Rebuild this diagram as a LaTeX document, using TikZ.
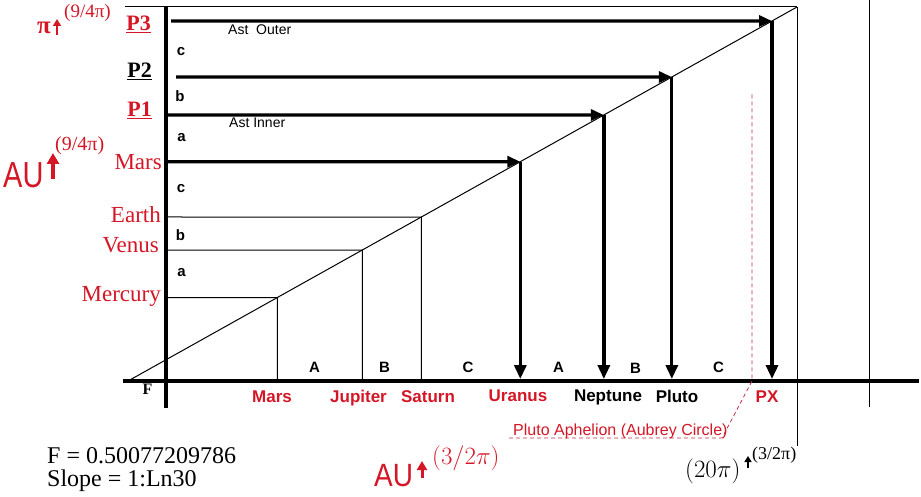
\documentclass[tikz,border=0pt]{standalone}
\usepackage[no-math]{fontspec}
\setmainfont{Liberation Serif}
\newfontfamily\arialf{Liberation Sans}
\usetikzlibrary{arrows.meta}
\definecolor{myred}{RGB}{212,22,38}
\definecolor{dashred}{RGB}{190,50,70}
\newcommand\setfs[1]{\fontsize{#1}{#1}\selectfont}
\begin{document}
\begin{tikzpicture}[x=1pt,y=-1pt,
  thinln/.style={line width=1pt},
  axisln/.style={line width=3.6pt},
  harrow/.style={line width=3.3pt,-{Triangle[length=13pt,width=11pt]}},
  varrow/.style={line width=3.3pt,-{Triangle[length=14pt,width=12pt]}},
  lbl/.style={inner sep=0pt},
  serifred/.style={lbl,text=myred,font=\setfs{23}},
  pserif/.style={lbl,font=\setfs{22}\bfseries},
  sanslab/.style={lbl,font=\arialf\setfs{17}\bfseries,anchor=base},
  letr/.style={lbl,font=\arialf\setfs{15}\bfseries},
  astlab/.style={lbl,font=\arialf\setfs{14},anchor=base west},
  redup/.style={myred,line width=3.4pt,-{Triangle[length=11pt,width=12pt]}},
  dashred/.style={draw=dashred,line width=0.8pt,dash pattern=on 4pt off 3pt}
]
\useasboundingbox (0,0) rectangle (921,497);

% frame lines
\coordinate (tl) at (125,7);
\coordinate (D1) at (797,7);
\coordinate (D0) at (128,381);
\coordinate (vtop) at (166,6);
\coordinate (vbot) at (166,408);
\coordinate (hl) at (123,381);
\coordinate (hr) at (919,381);
\coordinate (ax) at (400,381);
\coordinate (axtop) at (400,379);
\coordinate (r1b) at (797,446);
\coordinate (r2t) at (869,0);
\coordinate (r2b) at (869,407);

\draw[thinln] (tl) -- (D1);
\draw[thinln] (D1) -- (r1b);
\draw[thinln] (r2t) -- (r2b);
\draw[thinln] (D0) -- (D1);
\draw[axisln] (vtop) -- (vbot);
\draw[axisln] (hl) -- (hr);

% thin horizontal / vertical lines
\coordinate (m0) at (166,297.5); \coordinate (m1) at (300,297.5);
\coordinate (v0) at (166,250);   \coordinate (v1) at (300,250);
\coordinate (e0) at (166,217);   \coordinate (e1) at (300,217);
\coordinate (mer) at (intersection of D0--D1 and m0--m1);
\coordinate (ven) at (intersection of D0--D1 and v0--v1);
\coordinate (ear) at (intersection of D0--D1 and e0--e1);
\draw[thinln] (m0) -- (mer) -- (mer |- ax);
\draw[thinln] (v0) -- (ven) -- (ven |- ax);
\draw[thinln] (e0) -- (ear) -- (ear |- ax);

% thick arrows
\coordinate (ma0) at (166,161.7); \coordinate (ma1) at (300,161.7);
\coordinate (p10) at (166,115);   \coordinate (p11) at (300,115);
\coordinate (p20) at (176,77);    \coordinate (p21) at (300,77);
\coordinate (p30) at (171,21);    \coordinate (p31) at (300,21);
\coordinate (maI) at (intersection of D0--D1 and ma0--ma1);
\coordinate (p1I) at (intersection of D0--D1 and p10--p11);
\coordinate (p2I) at (intersection of D0--D1 and p20--p21);
\coordinate (p3I) at (intersection of D0--D1 and p30--p31);
\foreach \s/\e in {ma0/maI,p10/p1I,p20/p2I,p30/p3I}{
  \draw[harrow] (\s) -- (\e);
  \draw[varrow] (\e) -- (\e |- axtop);
}

% red dashed Pluto aphelion
\coordinate (pa0) at (509,438);
\coordinate (pa1) at (722,438);
\coordinate (pa2) at (752,381);
\coordinate (pa3) at (752,92);
\draw[dashred] (pa0) -- (pa1) -- (pa2) -- (pa3);
\node[lbl,font=\arialf\setfs{16},text=myred,anchor=base west] (aph) at (513,435) {Pluto Aphelion (Aubrey Circle)};

% left labels
\node[pserif,text=myred,anchor=base east] (P3) at (151,31) {\underline{P3}};
\node[pserif,anchor=base east] (P2) at (152,78) {\underline{P2}};
\node[pserif,text=myred,anchor=base east] (P1) at (152,117) {\underline{P1}};
\node[serifred,anchor=base east] (lmars) at (162,170) {Mars};
\node[serifred,anchor=base east] (learth) at (161,223) {Earth};
\node[serifred,anchor=base east] (lvenus) at (159,253) {Venus};
\node[serifred,anchor=base east] (lmerc) at (161,301) {Mercury};

% section letters
\node[letr] (c1) at (181,51.5) {c};
\node[letr] (b1) at (180,96) {b};
\node[letr] (a1) at (181.5,138) {a};
\node[letr] (c2) at (181,189) {c};
\node[letr] (b2) at (180.5,235) {b};
\node[letr] (a2) at (181.5,273) {a};
\node[letr] (A1) at (314.5,367) {A};
\node[letr] (B1) at (384.5,367) {B};
\node[letr] (C1) at (468,367) {C};
\node[letr] (A2) at (558.5,367) {A};
\node[letr] (B2) at (635.5,368) {B};
\node[letr] (C2) at (718.5,367) {C};

\node[astlab] (astout) at (228,35) {Ast\ \ Outer};
\node[astlab] (astin) at (229,128) {Ast Inner};

% bottom labels
\node[sanslab,text=myred] (bmars) at (272,402) {Mars};
\node[sanslab,text=myred] (bjup) at (358.5,402) {Jupiter};
\node[sanslab,text=myred] (bsat) at (428,402) {Saturn};
\node[sanslab,text=myred] (bura) at (518,401) {Uranus};
\node[sanslab] (bnep) at (608,401) {Neptune};
\node[sanslab] (bplu) at (677,402) {Pluto};
\node[sanslab,text=myred] (bpx) at (767,402) {PX};
\node[lbl,font=\setfs{16}\bfseries] (F) at (147.5,389.5) {F};

% formulas
\node[lbl,font=\setfs{24},anchor=base west] (fval) at (47,463) {F = 0.50077209786};
\node[lbl,font=\setfs{24},anchor=base west] (slope) at (47,486) {Slope = 1:Ln30};

% top-left pi
\node[lbl,text=myred,font=\setfs{25}\bfseries,anchor=base west] (pi) at (37,34) {π};
\coordinate (pia) at (57,35); \coordinate (pib) at (57,19);
\draw[myred,line width=2.2pt,-{Triangle[length=7pt,width=8pt]}] (pia) -- (pib);
\node[lbl,text=myred,font=\setfs{19},anchor=base west] (pisup) at (64,18) {(9/4π)};

% left AU
\node[lbl,text=myred,font=\arialf\setfs{29},anchor=base west] (auL) at (3,188) {\scalebox{1}[1.25]{AU}};
\coordinate (aula) at (53,179); \coordinate (aulb) at (53,153);
\draw[redup] (aula) -- (aulb);
\node[lbl,text=myred,font=\setfs{20},anchor=base west] (auLsup) at (55,151) {(9/4π)};

% bottom AU
\node[lbl,text=myred,font=\arialf\setfs{28},anchor=base west] (auB) at (374,486) {\scalebox{1}[1.15]{AU}};
\coordinate (auba) at (422,478); \coordinate (aubb) at (422,461);
\draw[myred,line width=3pt,-{Triangle[length=9pt,width=10pt]}] (auba) -- (aubb);
\node[lbl,text=myred,font=\setfs{23},anchor=base west] (auBsup) at (432,464) {$(3/2\pi)$};

% (20 pi)
\node[lbl,font=\setfs{23},anchor=base west] (tw) at (685,477) {$(20\pi)$};
\coordinate (twa) at (748,468); \coordinate (twb) at (748,456);
\draw[line width=1.8pt,-{Triangle[length=6pt,width=7pt]}] (twa) -- (twb);
\node[lbl,font=\setfs{18},anchor=base west] (twsup) at (752,459) {(3/2π)};
\end{tikzpicture}
\end{document}
